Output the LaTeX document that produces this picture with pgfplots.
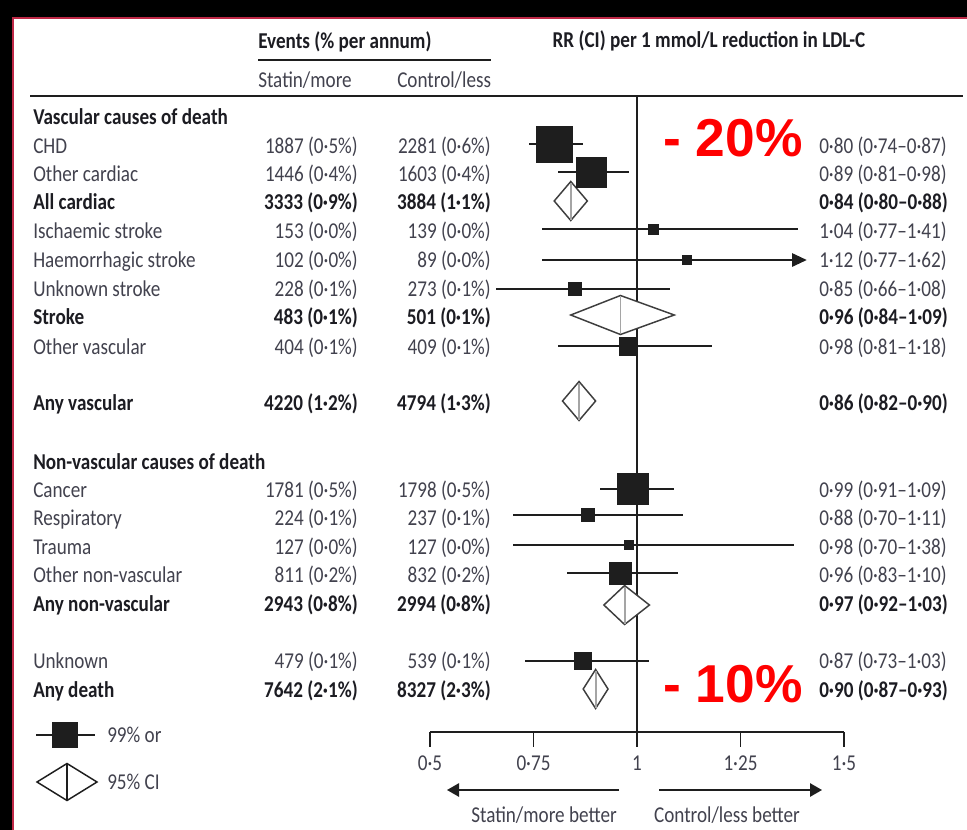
\documentclass[border=0pt]{standalone}
\usepackage{pgfplots}
\pgfplotsset{compat=1.18}
\usepackage{pgfplotstable}
\usepackage{fontspec}
\setmainfont{Carlito}[FakeStretch=0.845]
\newfontfamily\bigfont{Liberation Sans}
\usetikzlibrary{arrows.meta}

\definecolor{txt}{RGB}{66,66,78}
\definecolor{txtb}{RGB}{28,28,34}
\definecolor{ink}{RGB}{30,30,30}
\definecolor{dia}{RGB}{62,62,62}
\definecolor{dialine}{RGB}{165,165,165}
\definecolor{frame}{RGB}{190,40,70}

% cause-specific rate ratios: row position, RR, CI limits, box size (px)
\pgfplotstableread{
y   rr   lo   hi   s
144 0.80 0.74 0.87 36
172 0.89 0.81 0.98 30
229 1.04 0.77 1.41 10
260 1.12 0.77 1.62 9
289 0.85 0.66 1.08 13
346 0.98 0.81 1.18 18
489 0.99 0.91 1.09 31
515 0.88 0.70 1.11 13
545 0.98 0.70 1.38 9
573 0.96 0.83 1.10 22
661 0.87 0.73 1.03 17
}\sqdata

\newcommand{\mainsz}{\fontsize{17pt}{19pt}\selectfont}
\newcommand{\rowtxt}[5]{%
  \node[anchor=base west] at (33,#1) {#2};
  \node[anchor=base east] at (358,#1) {#3};
  \node[anchor=base east] at (491,#1) {#4};
  \node[anchor=base west] at (819,#1) {#5};}
\newcommand{\rowtxtb}[5]{%
  \node[anchor=base west,text=txtb,font=\mainsz\bfseries] at (33,#1) {#2};
  \node[anchor=base east,text=txtb,font=\mainsz\bfseries] at (358,#1) {#3};
  \node[anchor=base east,text=txtb,font=\mainsz\bfseries] at (491,#1) {#4};
  \node[anchor=base west,text=txtb,font=\mainsz\bfseries] at (819,#1) {#5};}

\begin{document}
\begin{tikzpicture}
% page background and panel
\begin{scope}[x=0.75pt,y=-0.75pt]
  \fill[black] (0,0) rectangle (967,830);
  \fill[white] (12,17) rectangle (967,830);
  \draw[frame,line width=1.2pt] (12.8,830) -- (12.8,17.8) -- (967,17.8);
  \draw[ink,line width=1.1pt] (258,60) -- (491,60);
  \draw[ink,line width=1.1pt] (30,96) -- (963,96);
\end{scope}

\begin{axis}[at={(0pt,0pt)}, anchor=north west, scale only axis,
  width=725.25pt, height=622.5pt,
  xmin=-0.538647, xmax=1.797101, ymin=0, ymax=830, y dir=reverse,
  axis lines=none, clip=false]

% line of no effect and RR scale
\draw[ink,line width=1.2pt] (axis cs:1,96) -- (axis cs:1,747);
\draw[ink,line width=1.2pt] (axis cs:0.5,732) -- (axis cs:1.5,732);
\pgfplotsinvokeforeach{0.5,0.75,1,1.25,1.5}{
  \draw[ink,line width=1.2pt] (axis cs:#1,732) -- (axis cs:#1,747);}

% boxes with confidence intervals
\addplot[scatter, only marks, mark=square*,
  scatter/use mapped color={draw=ink,fill=ink},
  visualization depends on={0.375*\thisrow{s} \as \msize},
  scatter/@pre marker code/.append style={/tikz/mark size=\msize},
  error bars/.cd, x dir=both, x explicit, error mark=none,
  error bar style={line width=1.35pt,draw=ink}]
  table[x=rr, y=y,
    x error plus expr={min(\thisrow{hi},1.39)-\thisrow{rr}},
    x error minus expr={\thisrow{rr}-\thisrow{lo}}] {\sqdata};

% haemorrhagic stroke interval runs off the scale
\addplot[ink, line width=1.35pt, -{Triangle[length=11pt,width=10pt]}]
  coordinates {(1.30,260) (1.41,260)};

% subtotals and totals (95% CI diamonds)
\addplot[dia, fill=white, line width=1.1pt] coordinates {(0.80,201) (0.84,181.5) (0.88,201) (0.84,220.5)} -- cycle;
\addplot[dialine, line width=1.4pt] coordinates {(0.84,182.5) (0.84,219.5)};
\addplot[dia, fill=white, line width=1.1pt] coordinates {(0.84,315) (0.96,295.5) (1.09,315) (0.96,334.5)} -- cycle;
\addplot[dialine, line width=1.4pt] coordinates {(0.96,296.5) (0.96,333.5)};
\addplot[dia, fill=white, line width=1.1pt] coordinates {(0.82,401) (0.86,381.5) (0.90,401) (0.86,420.5)} -- cycle;
\addplot[dialine, line width=1.4pt] coordinates {(0.86,382.5) (0.86,419.5)};
\addplot[dia, fill=white, line width=1.1pt] coordinates {(0.92,605) (0.97,585.5) (1.03,605) (0.97,624.5)} -- cycle;
\addplot[dialine, line width=1.4pt] coordinates {(0.97,586.5) (0.97,623.5)};
\addplot[dia, fill=white, line width=1.1pt] coordinates {(0.87,689) (0.90,669.5) (0.93,689) (0.90,708.5)} -- cycle;
\addplot[dialine, line width=1.4pt] coordinates {(0.90,670.5) (0.90,707.5)};
\end{axis}

\begin{scope}[x=0.75pt,y=-0.75pt,
  every node/.style={inner sep=0pt, font=\mainsz, text=txt}]
  % column heads
  \node[anchor=base west,font=\mainsz\bfseries,text=txtb] at (258,49) {Events (\% per annum)};
  \node[anchor=base,font=\mainsz\bfseries,text=txtb] at (709,48) {RR (CI) per 1 mmol/L reduction in LDL-C};
  \node[anchor=base west] at (258,88) {Statin/more};
  \node[anchor=base west] at (397,88) {Control/less};

  \node[anchor=base west,font=\mainsz\bfseries,text=txtb] at (33,125) {Vascular causes of death};
  \rowtxt{154}{CHD}{1887 (0·5\%)}{2281 (0·6\%)}{0·80 (0·74–0·87)}
  \rowtxt{182}{Other cardiac}{1446 (0·4\%)}{1603 (0·4\%)}{0·89 (0·81–0·98)}
  \rowtxtb{210}{All cardiac}{3333 (0·9\%)}{3884 (1·1\%)}{0·84 (0·80–0·88)}
  \rowtxt{239}{Ischaemic stroke}{153 (0·0\%)}{139 (0·0\%)}{1·04 (0·77–1·41)}
  \rowtxt{268}{Haemorrhagic stroke}{102 (0·0\%)}{89 (0·0\%)}{1·12 (0·77–1·62)}
  \rowtxt{297}{Unknown stroke}{228 (0·1\%)}{273 (0·1\%)}{0·85 (0·66–1·08)}
  \rowtxtb{325}{Stroke}{483 (0·1\%)}{501 (0·1\%)}{0·96 (0·84–1·09)}
  \rowtxt{354}{Other vascular}{404 (0·1\%)}{409 (0·1\%)}{0·98 (0·81–1·18)}
  \rowtxtb{410}{Any vascular}{4220 (1·2\%)}{4794 (1·3\%)}{0·86 (0·82–0·90)}

  \node[anchor=base west,font=\mainsz\bfseries,text=txtb] at (33,469) {Non-vascular causes of death};
  \rowtxt{497}{Cancer}{1781 (0·5\%)}{1798 (0·5\%)}{0·99 (0·91–1·09)}
  \rowtxt{525}{Respiratory}{224 (0·1\%)}{237 (0·1\%)}{0·88 (0·70–1·11)}
  \rowtxt{554}{Trauma}{127 (0·0\%)}{127 (0·0\%)}{0·98 (0·70–1·38)}
  \rowtxt{582}{Other non-vascular}{811 (0·2\%)}{832 (0·2\%)}{0·96 (0·83–1·10)}
  \rowtxtb{611}{Any non-vascular}{2943 (0·8\%)}{2994 (0·8\%)}{0·97 (0·92–1·03)}

  \rowtxt{668}{Unknown}{479 (0·1\%)}{539 (0·1\%)}{0·87 (0·73–1·03)}
  \rowtxtb{697}{Any death}{7642 (2·1\%)}{8327 (2·3\%)}{0·90 (0·87–0·93)}

  % scale labels
  \node[anchor=base] at (430,770) {0·5};
  \node[anchor=base] at (533.5,770) {0·75};
  \node[anchor=base] at (637,770) {1};
  \node[anchor=base] at (740.5,770) {1·25};
  \node[anchor=base] at (844,770) {1·5};
  \draw[ink,line width=1.3pt,-{Triangle[length=9pt,width=10pt]}] (619,790) -- (447,790);
  \draw[ink,line width=1.3pt,-{Triangle[length=9pt,width=10pt]}] (659,790) -- (822,790);
  \node[anchor=base] at (544,822) {Statin/more better};
  \node[anchor=base] at (727,822) {Control/less better};

  % key
  \draw[ink,line width=1.3pt] (36,735) -- (95,735);
  \fill[ink] (52,722) rectangle (78,748);
  \node[anchor=base west] at (107,742) {99\% or};
  \draw[ink,line width=1.1pt,fill=white] (37,782) -- (67,763.5) -- (97,782) -- (67,800.5) -- cycle;
  \draw[ink,line width=1.1pt] (67,763.5) -- (67,800.5);
  \node[anchor=base west] at (107,789) {95\% CI};

  % headline reductions
  \node[anchor=base west,text=red,font=\bigfont\bfseries\fontsize{40pt}{40pt}\selectfont] at (663,157) {- 20\%};
  \node[anchor=base west,text=red,font=\bigfont\bfseries\fontsize{40pt}{40pt}\selectfont] at (663,702) {- 10\%};

  \pgfresetboundingbox
  \path (0,0) rectangle (967,830);
\end{scope}
\end{tikzpicture}
\end{document}
